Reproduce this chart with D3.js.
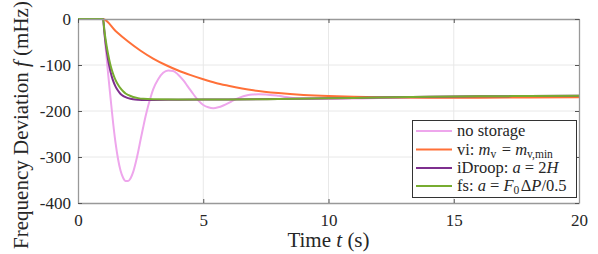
<!DOCTYPE html>
<html>

<head>
	<meta charset="utf-8">
	<script src="https://d3js.org/d3.v7.min.js"></script>
</head>

<body style="margin:0">
	<script>
		//frequency response after a step in load, four storage strategies

		//no storage
		var tNoStorage = [0, 1, 1.1, 1.2, 1.3, 1.4, 1.5, 1.6, 1.7, 1.8, 1.9, 2.0, 2.1, 2.2, 2.3, 2.4, 2.5, 2.6, 2.7, 2.8, 2.9, 3.0,
			3.2, 3.4, 3.6, 3.8, 4.0, 4.2, 4.4, 4.6, 4.8, 5.0, 5.2, 5.4, 5.6, 5.8, 6.0, 6.2, 6.4, 6.6, 6.8, 7.0, 7.2, 7.5,
			8.0, 8.5, 9.0, 9.5, 10, 11, 12, 14, 16, 18, 20];
		var fNoStorage = [0, 0, -60, -118, -172, -225, -270, -305, -330, -345, -352, -352, -346, -333, -313, -289, -262, -236, -211, -189, -170, -153,
			-131, -117, -112, -113, -121, -133, -148, -163, -177, -187, -192, -194, -192, -188, -183, -177, -172, -168, -165, -164, -163.5, -164,
			-167, -171, -173, -174, -174, -173, -172, -171, -170, -169, -168];

		//virtual inertia
		var tVi = [0, 1, 1.5, 2, 2.5, 3, 3.5, 4, 4.5, 5, 5.5, 6, 7, 8, 9, 10, 11, 12, 14, 16, 18, 20];
		var fVi = [0, 0, -26, -49, -69, -86, -100, -112, -122, -131, -139, -145, -155, -161, -165, -167.5, -169, -170, -171, -171, -170.5, -170];

		//iDroop
		var tDroop = [0, 1, 1.05, 1.1, 1.2, 1.3, 1.4, 1.5, 1.6, 1.7, 1.8, 1.9, 2.0, 2.2, 2.4, 2.7, 3, 4, 6, 8, 10, 12, 14, 16, 18, 20];
		var fDroop = [0, 0, -28, -52, -88, -115, -134, -147, -156, -163, -167, -170, -172, -174.5, -175.5, -176, -176, -175.5, -175, -174, -172.5, -170.5, -169, -168, -167.5, -167];

		//frequency shaping
		var tFs = [0, 1, 1.05, 1.1, 1.2, 1.3, 1.4, 1.5, 1.6, 1.7, 1.8, 1.9, 2.0, 2.2, 2.4, 2.6, 3, 4, 6, 8, 10, 12, 14, 16, 18, 20];
		var fFs = [0, 0, -23, -44, -76, -101, -119, -133, -143, -151, -157, -162, -165, -169.5, -172, -173.5, -174.5, -175, -175, -174, -172.5, -170.5, -169, -168, -167.5, -167];

		var xTicks = [0, 5, 10, 15, 20];
		var yTicks = [0, -100, -200, -300, -400];

		var seriesNames = ["no storage", "vi", "iDroop", "fs"];
		var seriesColors = ["#eea6ec", "#ff7038", "#7e2f8e", "#77ac30"];

		var series = [
			{ t: tNoStorage, f: fNoStorage },
			{ t: tVi, f: fVi },
			{ t: tDroop, f: fDroop },
			{ t: tFs, f: fFs }
		];

		var fontName = "Liberation Serif";

		//layout (plot box in pixels)
		var w = 598;
		var h = 254;
		var boxL = 78, boxR = 579, boxT = 19, boxB = 203;

		var xScale = d3.scaleLinear().domain([0, 20]).range([boxL, boxR]);
		var yScale = d3.scaleLinear().domain([-400, 0]).range([boxB, boxT]);

		var svg = d3.select("body")
			.append("svg")
			.attr("width", w)
			.attr("height", h)
			.attr("font-family", fontName);

		//grid
		svg.append("g")
			.selectAll("line")
			.data(xTicks.slice(1, -1))
			.enter()
			.append("line")
			.attr("x1", function (d) { return xScale(d); })
			.attr("x2", function (d) { return xScale(d); })
			.attr("y1", boxT)
			.attr("y2", boxB)
			.style("stroke", "#e8e8e8");

		svg.append("g")
			.selectAll("line")
			.data(yTicks.slice(1, -1))
			.enter()
			.append("line")
			.attr("x1", boxL)
			.attr("x2", boxR)
			.attr("y1", function (d) { return yScale(d); })
			.attr("y2", function (d) { return yScale(d); })
			.style("stroke", "#e8e8e8");

		//curves
		var line = d3.line()
			.x(function (d) { return xScale(d[0]); })
			.y(function (d) { return yScale(d[1]); })
			.curve(d3.curveMonotoneX);

		series.forEach(function (s, i) {
			svg.append("path")
				.datum(d3.zip(s.t, s.f))
				.attr("d", line)
				.style("fill", "none")
				.style("stroke", seriesColors[i])
				.style("stroke-width", 2);
		});

		//axes, ticks pointing inward on all sides
		var xAxis = d3.axisBottom(xScale).tickValues(xTicks).tickSizeInner(-4).tickSizeOuter(0).tickPadding(10);
		var yAxis = d3.axisLeft(yScale).tickValues(yTicks).tickSizeInner(-4).tickSizeOuter(0).tickPadding(7)
			.tickFormat(function (d) { return d; });

		var gx = svg.append("g")
			.attr("transform", "translate(0," + boxB + ")")
			.call(xAxis);
		var gy = svg.append("g")
			.attr("transform", "translate(" + boxL + ",0)")
			.call(yAxis);

		svg.append("g")
			.attr("transform", "translate(0," + boxT + ")")
			.call(d3.axisTop(xScale).tickValues(xTicks).tickSizeInner(-4).tickSizeOuter(0).tickFormat(""));
		svg.append("g")
			.attr("transform", "translate(" + boxR + ",0)")
			.call(d3.axisRight(yScale).tickValues(yTicks).tickSizeInner(-4).tickSizeOuter(0).tickFormat(""));

		//d3 puts sans-serif on each axis group, take it back
		svg.selectAll("g").attr("font-family", fontName);
		svg.selectAll(".domain").style("stroke", "#999").style("stroke-width", 1.3);
		svg.selectAll(".tick line").style("stroke", "#555");
		svg.selectAll(".tick text")
			.attr("font-family", fontName)
			.attr("font-size", 17)
			.attr("fill", "#262626");
		gx.selectAll(".tick text").attr("dy", "0.75em");

		//axis labels
		var xl = svg.append("text")
			.attr("text-anchor", "middle")
			.attr("x", (boxL + boxR) / 2)
			.attr("y", 247)
			.attr("font-family", fontName)
			.attr("font-size", 21)
			.attr("fill", "#262626");
		xl.append("tspan").text("Time ");
		xl.append("tspan").attr("font-style", "italic").text("t");
		xl.append("tspan").text(" (s)");

		var yl = svg.append("text")
			.attr("text-anchor", "middle")
			.attr("transform", "translate(28,125)rotate(-90)")
			.attr("font-family", fontName)
			.attr("font-size", 21)
			.attr("fill", "#262626");
		yl.append("tspan").text("Frequency Deviation ");
		yl.append("tspan").attr("font-style", "italic").text("f");
		yl.append("tspan").text(" (mHz)");

		//legend
		var lg = svg.append("g");
		lg.append("rect")
			.attr("x", 412.5)
			.attr("y", 120.5)
			.attr("width", 164)
			.attr("height", 77)
			.style("fill", "white")
			.style("stroke", "#333")
			.style("stroke-width", 1);

		var rowY = [131, 149.5, 168, 186];
		rowY.forEach(function (y, i) {
			lg.append("line")
				.attr("x1", 416)
				.attr("x2", 452)
				.attr("y1", y)
				.attr("y2", y)
				.style("stroke", seriesColors[i])
				.style("stroke-width", 2);
		});

		function legendText(y) {
			return lg.append("text")
				.attr("x", 457)
				.attr("y", y + 5)
				.attr("font-family", fontName)
				.attr("font-size", 16.5)
				.attr("fill", "#262626");
		}

		function sub(el, txt) {
			el.append("tspan").attr("dy", 3).attr("font-size", 11.5).text(txt);
			el.append("tspan").attr("dy", -3).text("\u200a");
		}

		legendText(rowY[0]).text(seriesNames[0]);

		var t1 = legendText(rowY[1]);
		t1.append("tspan").text(seriesNames[1] + ":  ");
		t1.append("tspan").attr("font-style", "italic").text("m");
		sub(t1, "v");
		t1.append("tspan").text(" = ");
		t1.append("tspan").attr("font-style", "italic").text("m");
		sub(t1, "v,min");

		var t2 = legendText(rowY[2]);
		t2.append("tspan").text(seriesNames[2] + ":  ");
		t2.append("tspan").attr("font-style", "italic").text("a");
		t2.append("tspan").text(" = 2");
		t2.append("tspan").attr("font-style", "italic").text("H");

		var t3 = legendText(rowY[3]);
		t3.append("tspan").text(seriesNames[3] + ":  ");
		t3.append("tspan").attr("font-style", "italic").text("a");
		t3.append("tspan").text(" = ");
		t3.append("tspan").attr("font-style", "italic").text("F");
		sub(t3, "0");
		t3.append("tspan").text("\u0394");
		t3.append("tspan").attr("font-style", "italic").text("P");
		t3.append("tspan").text("/0.5");
	</script>
</body>

</html>
